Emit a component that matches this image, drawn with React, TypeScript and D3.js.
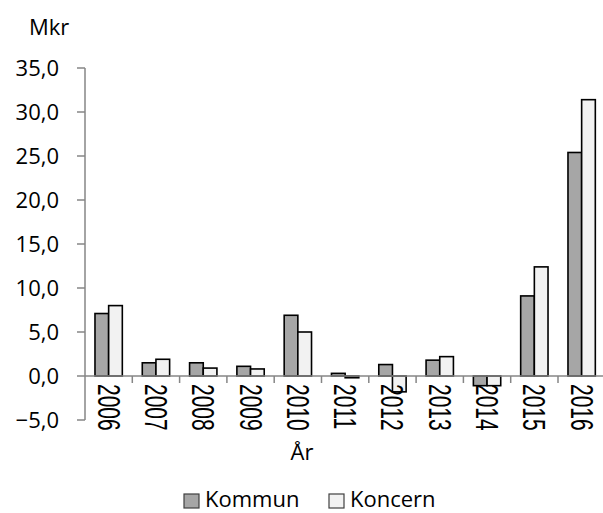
import React, { useEffect, useRef } from "react";
import * as d3 from "d3";

const years = ["2006", "2007", "2008", "2009", "2010", "2011", "2012", "2013", "2014", "2015", "2016"];
const series = ["Kommun", "Koncern"];
const kommun = [7.1, 1.5, 1.5, 1.1, 6.9, 0.3, 1.3, 1.8, -1.1, 9.1, 25.4];
const koncern = [8.0, 1.9, 0.9, 0.8, 5.0, -0.2, -1.8, 2.2, -1.1, 12.4, 31.4];
const yTicks = [-5, 0, 5, 10, 15, 20, 25, 30, 35];
const colors = ["#a6a6a6", "#f2f2f2"];

const W = 603;
const H = 513;
const font = "'Open Sans', sans-serif";

export default function App() {
  const ref = useRef<SVGSVGElement>(null);

  useEffect(() => {
    const svg = d3.select(ref.current);
    svg.selectAll("*").remove();

    const left = 85;
    const step = 47.3;
    const x = d3
      .scaleBand()
      .domain(years)
      .range([left, left + step * years.length]);
    const x1 = d3
      .scaleBand()
      .domain(series)
      .range([0, x.bandwidth()])
      .paddingOuter(0.73);
    const y = d3.scaleLinear().domain([-5, 35]).range([420, 68]);
    const fmt = (v: number) => d3.format(".1f")(v).replace(".", ",");
    const axisColor = "#868686";

    // y axis
    const gy = svg.append("g");
    gy.append("line")
      .attr("x1", left).attr("x2", left)
      .attr("y1", y(-5)).attr("y2", y(35))
      .attr("stroke", axisColor).attr("stroke-width", 1.5);
    gy.selectAll("line.tick")
      .data(yTicks)
      .join("line")
      .attr("class", "tick")
      .attr("x1", left - 8).attr("x2", left)
      .attr("y1", (d) => y(d)).attr("y2", (d) => y(d))
      .attr("stroke", axisColor).attr("stroke-width", 1.5);
    gy.selectAll("text")
      .data(yTicks)
      .join("text")
      .attr("x", 59)
      .attr("y", (d) => y(d))
      .attr("dy", "0.36em")
      .attr("text-anchor", "end")
      .attr("font-family", font)
      .attr("font-size", 22)
      .attr("fill", "#000")
      .text((d) => fmt(d));

    // bars
    const data = years.map((yr, i) => ({ yr, vals: [kommun[i], koncern[i]] }));
    const groups = svg
      .append("g")
      .selectAll("g")
      .data(data)
      .join("g")
      .attr("transform", (d) => `translate(${x(d.yr)},0)`);
    groups
      .selectAll("rect")
      .data((d) => d.vals.map((v, j) => ({ v, s: series[j], j })))
      .join("rect")
      .attr("x", (d) => x1(d.s)!)
      .attr("width", x1.bandwidth())
      .attr("y", (d) => y(Math.max(0, d.v)))
      .attr("height", (d) => Math.abs(y(d.v) - y(0)))
      .attr("fill", (d) => colors[d.j])
      .attr("stroke", "#000")
      .attr("stroke-width", 1.6);

    // x axis
    const gx = svg.append("g");
    gx.append("line")
      .attr("x1", left).attr("x2", W)
      .attr("y1", y(0)).attr("y2", y(0))
      .attr("stroke", axisColor).attr("stroke-width", 1.5);
    gx.selectAll("line.tick")
      .data(years.slice(1))
      .join("line")
      .attr("class", "tick")
      .attr("x1", (d) => x(d)!).attr("x2", (d) => x(d)!)
      .attr("y1", y(0)).attr("y2", y(0) + 7)
      .attr("stroke", axisColor).attr("stroke-width", 1.5);
    gx.selectAll("g.lbl")
      .data(years)
      .join("g")
      .attr("class", "lbl")
      .attr("transform", (d) => `translate(${x(d)! + x.bandwidth() / 2},${y(0) + 8}) rotate(90) scale(1,1.45)`)
      .append("text")
      .attr("dy", "0.36em")
      .attr("font-family", "'Liberation Sans', Arial, sans-serif")
      .attr("font-size", 21)
      .attr("fill", "#000")
      .text((d) => d);

    // titles
    svg.append("text")
      .attr("x", 29).attr("y", 35)
      .attr("font-family", font).attr("font-size", 22)
      .text("Mkr");
    svg.append("text")
      .attr("x", 302).attr("y", 460)
      .attr("text-anchor", "middle")
      .attr("font-family", font).attr("font-size", 22)
      .text("År");

    // legend
    const lx = [184, 329];
    const lg = svg
      .append("g")
      .selectAll("g")
      .data(series)
      .join("g")
      .attr("transform", (_d, i) => `translate(${lx[i]},0)`);
    lg.append("rect")
      .attr("x", 0).attr("y", 494)
      .attr("width", 15).attr("height", 14)
      .attr("fill", (_d, i) => colors[i])
      .attr("stroke", "#404040").attr("stroke-width", 1.2);
    lg.append("text")
      .attr("x", 21).attr("y", 507)
      .attr("font-family", font).attr("font-size", 22)
      .text((d) => d);
  }, []);

  return (
    <svg
      ref={ref}
      width={W}
      height={H}
      style={{ position: "absolute", left: 0, top: 0, background: "#fff" }}
    />
  );
}
